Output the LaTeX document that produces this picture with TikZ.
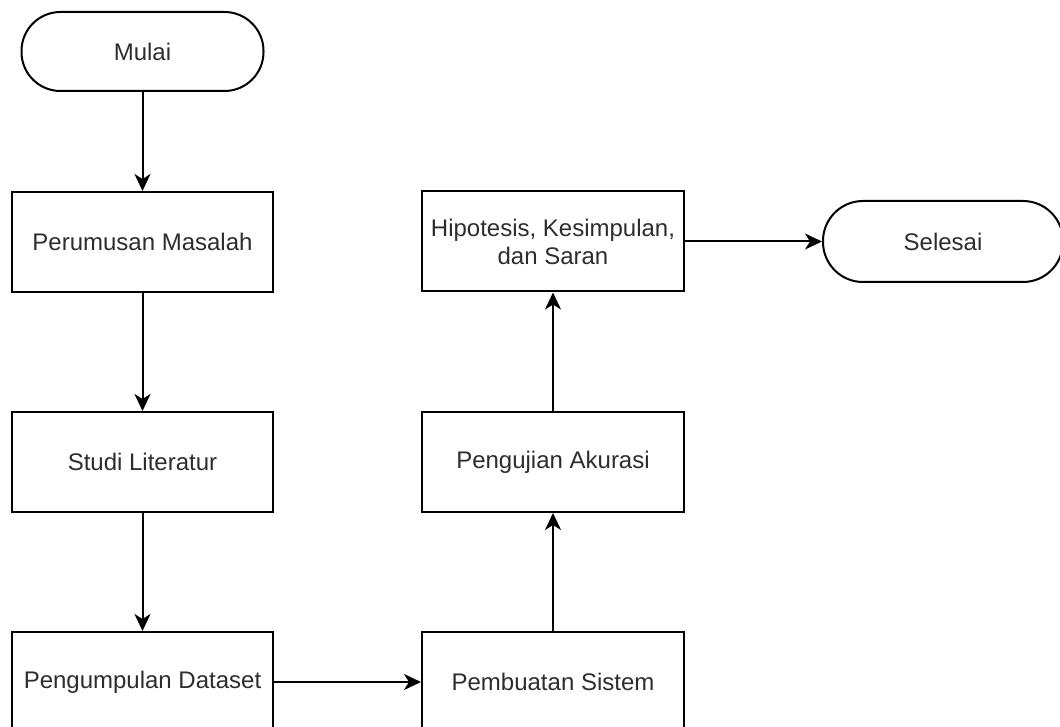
\documentclass[tikz,border=0pt]{standalone}
\usepackage{fontspec}
\setmainfont{Liberation Sans}
\usetikzlibrary{arrows.meta}
\definecolor{txt}{RGB}{45,45,45}
\tikzset{
  box/.style={draw=black, line width=2pt, minimum width=261pt, minimum height=100pt, inner sep=0pt,
    text=txt, align=center, font=\fontsize{24}{28}\selectfont},
  term/.style={box, minimum width=242pt, minimum height=79pt, rounded corners=39pt},
  conn/.style={draw=black, line width=2pt, -{Stealth[length=17pt, width=16pt, inset=5pt]}}
}
\begin{document}
\begin{tikzpicture}[x=1pt, y=-1pt]
\useasboundingbox (0,0) rectangle (1060,727);
\clip (0,0) rectangle (1060,727);
\node[term] (mulai) at (142.5,51.5) {Mulai};
\node[box] (rumus) at (142.5,242) {Perumusan Masalah};
\node[box] (studi) at (142.5,462) {Studi Literatur};
\node[box] (kumpul) at (142.5,682) {Pengumpulan Dataset};
\node[box, minimum width=262pt] (buat) at (553,682) {Pembuatan Sistem};
\node[box, minimum width=262pt] (uji) at (553,462) {Pengujian Akurasi};
\node[box, minimum width=262pt] (hipo) at (553,241.5) {Hipotesis, Kesimpulan,\\dan Saran};
\node[term, minimum width=240pt, minimum height=81pt, rounded corners=40pt] (selesai) at (943,241.5) {Selesai};
\draw[conn] (mulai) -- (rumus);
\draw[conn] (rumus) -- (studi);
\draw[conn] (studi) -- (kumpul);
\draw[conn] (kumpul) -- (buat);
\draw[conn] (buat) -- (uji);
\draw[conn] (uji) -- (hipo);
\draw[conn] (hipo) -- (selesai);
\end{tikzpicture}
\end{document}
